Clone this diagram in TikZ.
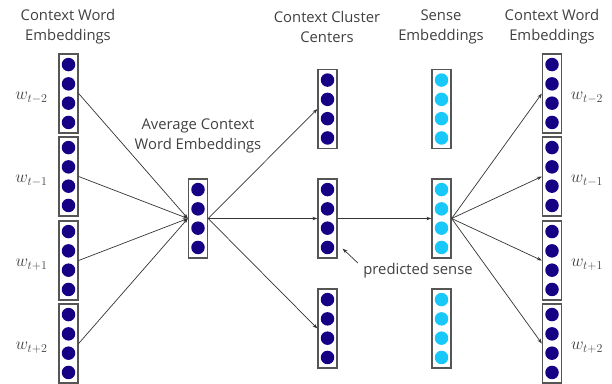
\documentclass[tikz,border=0pt]{standalone}
\usepackage{fontspec}
\setmainfont{Open Sans}
\usetikzlibrary{positioning,arrows.meta,calc}

\definecolor{wordblue}{RGB}{22,0,132}
\definecolor{senseblue}{RGB}{24,200,248}
\definecolor{boxgray}{RGB}{85,85,85}
\definecolor{txtgray}{RGB}{64,64,64}

% one embedding vector: framed column of four dots
\newcommand\embvec[3]{%
  \node[vec] (#1) at (#2) {};
  \foreach \k in {-1.5,-0.5,0.5,1.5}
    \node[dot=#3] at ($(#1.center)+(0,\k*19.3)$) {};
}

\begin{document}
\begin{tikzpicture}[
    x=1pt, y=-1pt,
    vec/.style={draw=boxgray, line width=1.3pt, minimum width=19pt,
                minimum height=79pt, inner sep=0pt},
    dot/.style={circle, fill=#1, inner sep=0pt, minimum size=13.5pt},
    head/.style={font=\fontsize{14.8}{20}\selectfont, text=txtgray, align=center},
    wlab/.style={font=\fontsize{17.5}{20}\selectfont, text=txtgray},
    con/.style={-{Stealth[length=5pt,width=3.5pt]}, draw=black!80, line width=0.7pt},
  ]
  \useasboundingbox (0,0) rectangle (612,383);

  % ============ columns ============
  \embvec{ctxA}{68.5,93.5}{wordblue}
  \embvec{ctxB}{68.5,176.5}{wordblue}
  \embvec{ctxC}{68.5,260.5}{wordblue}
  \embvec{ctxD}{68.5,343.5}{wordblue}

  \embvec{avg}{198,218.5}{wordblue}

  \embvec{cluA}{327.5,109}{wordblue}
  \embvec{cluB}{327.5,218.5}{wordblue}
  \embvec{cluC}{327.5,328.5}{wordblue}

  \embvec{senA}{441.5,109}{senseblue}
  \embvec{senB}{441.5,218.5}{senseblue}
  \embvec{senC}{441.5,328.5}{senseblue}

  \embvec{outA}{552,93.5}{wordblue}
  \embvec{outB}{552,176.5}{wordblue}
  \embvec{outC}{552,260.5}{wordblue}
  \embvec{outD}{552,343.5}{wordblue}

  % ============ headings ============
  \node[head] (hCtx) at (68,27) {Context Word\\Embeddings};
  \node[head] (hAvg) at (198,136) {Average Context\\Word Embeddings};
  \node[head] (hClu) at (327,27) {Context Cluster\\Centers};
  \node[head] (hSen) at (441,27) {Sense\\Embeddings};
  \node[head] (hOut) at (552,27) {Context Word\\Embeddings};

  % ============ word labels ============
  \foreach \b/\t in {A/{t-2}, B/{t-1}, C/{t+1}, D/{t+2}} {
    \node[wlab] (wl\b) at ($(ctx\b.center)+(-37,4)$) {$w_{\t}$};
    \node[wlab] (wr\b) at ($(out\b.center)+(35,4)$) {$w_{\t}$};
  }

  % ============ connectors ============
  \foreach \b in {A,B,C,D}
    \draw[con] (ctx\b.east) -- (avg.west);
  \foreach \b in {A,B,C}
    \draw[con] (avg.east) -- (clu\b.west);
  \draw[con] (cluB.east) -- (senB.west);
  \foreach \b in {A,B,C,D}
    \draw[con] (senB.east) -- (out\b.west);

  \node[head] (pred) at (418,271) {predicted sense};
  \draw[con] ($(pred.west)+(-2,-8)$) -- ($(cluB.south east)+(5,-10)$);
\end{tikzpicture}
\end{document}
